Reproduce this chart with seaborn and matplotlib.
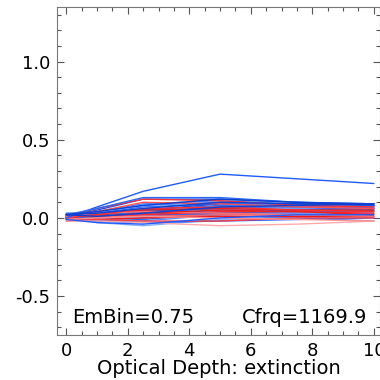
import matplotlib
matplotlib.use("Agg")
import matplotlib.pyplot as plt
import seaborn as sns
import pandas as pd
from matplotlib.ticker import MultipleLocator

depth = [0, 1, 2.5, 5, 7.5, 10]

blue_lines = {
    "b1": [0.00, 0.07, 0.17, 0.28, 0.25, 0.22],
    "b2": [0.02, 0.06, 0.13, 0.13, 0.10, 0.09],
    "b3": [0.01, 0.05, 0.12, 0.12, 0.10, 0.08],
    "b4": [0.00, 0.04, 0.09, 0.11, 0.09, 0.08],
    "b5": [0.02, 0.03, 0.06, 0.10, 0.09, 0.09],
    "b6": [0.01, 0.02, 0.05, 0.08, 0.08, 0.07],
    "b7": [0.00, 0.01, 0.03, 0.06, 0.06, 0.06],
    "b8": [0.02, 0.00, 0.02, 0.05, 0.05, 0.05],
    "b9": [0.01, -0.01, 0.00, 0.04, 0.04, 0.04],
    "b10": [0.00, -0.02, -0.02, 0.02, 0.03, 0.03],
    "b11": [-0.01, -0.03, -0.04, 0.00, 0.02, 0.02],
    "b12": [0.01, -0.03, -0.05, -0.01, 0.00, 0.01],
    "b13": [0.00, 0.00, 0.01, 0.03, 0.04, 0.05],
    "b14": [0.02, 0.02, 0.04, 0.07, 0.07, 0.08],
    "b15": [-0.01, 0.01, 0.02, 0.01, 0.00, -0.02],
    "b16": [0.01, 0.03, 0.07, 0.09, 0.07, 0.06],
    "b17": [0.00, -0.02, -0.03, -0.02, -0.01, 0.00],
    "b18": [0.02, 0.04, 0.08, 0.12, 0.10, 0.09],
    "b19": [0.01, 0.02, 0.04, 0.06, 0.08, 0.09],
    "b20": [0.00, 0.01, 0.02, 0.03, 0.05, 0.07],
    "b21": [0.03, 0.03, 0.05, 0.09, 0.09, 0.08],
    "b22": [0.01, 0.04, 0.08, 0.10, 0.08, 0.07],
    "b23": [-0.01, -0.02, -0.01, 0.03, 0.05, 0.06],
    "b24": [0.02, 0.01, 0.03, 0.07, 0.08, 0.09],
}
blue_colors = ["#1f5cff", "#2a6af5", "#1a50e8", "#4a86ff", "#0f40d0",
               "#3070ff", "#6a9cff", "#1f5cff", "#2a6af5", "#5b90ff",
               "#1f5cff", "#86b0ff", "#2a6af5", "#1a50e8", "#4a86ff",
               "#3070ff", "#1f5cff", "#0f40d0", "#2a6af5", "#1f5cff",
               "#1a50e8", "#4a86ff", "#2a6af5", "#0f40d0"]

red_lines = {
    "r1": [0.01, 0.06, 0.12, 0.11, 0.08, 0.07],
    "r2": [0.00, 0.04, 0.10, 0.09, 0.07, 0.06],
    "r3": [0.02, 0.02, 0.05, 0.06, 0.05, 0.05],
    "r4": [-0.01, 0.00, 0.02, 0.04, 0.04, 0.03],
    "r5": [0.01, 0.01, 0.01, 0.02, 0.02, 0.02],
    "r6": [-0.02, -0.01, 0.00, 0.01, 0.01, 0.01],
    "r7": [0.00, -0.01, -0.02, -0.02, 0.00, 0.00],
    "r8": [-0.02, -0.02, -0.03, -0.05, -0.04, -0.02],
    "r9": [0.01, 0.03, 0.04, 0.03, 0.02, 0.01],
    "r10": [0.00, 0.02, 0.06, 0.07, 0.05, 0.04],
    "r11": [0.02, 0.01, 0.03, 0.05, 0.04, 0.02],
    "r12": [-0.01, 0.00, 0.01, 0.00, -0.01, -0.02],
}
red_colors = ["#ff3030", "#ff5050", "#e82020", "#ff2a2a", "#ff6060",
              "#f01818", "#ff4040", "#ffaaaa", "#ff7070", "#ff3030",
              "#e82020", "#ff9090"]

# drawing order: most of the blue bundle, then red, then a few blue on top
blue_items = list(zip(blue_lines.items(), blue_colors))
red_items = list(zip(red_lines.items(), red_colors))
top_blue = {"b1", "b2", "b5", "b18", "b24", "b11"}
order = ([it for it in blue_items if it[0][0] not in top_blue] + red_items +
         [it for it in blue_items if it[0][0] in top_blue])

rows = []
palette = {}
for (name, vals), col in order:
    palette[name] = col
    for d, v in zip(depth, vals):
        rows.append({"depth": d, "value": v, "series": name})
df = pd.DataFrame(rows)

sns.set_style("ticks")
plt.rcParams["font.family"] = ["DejaVu Sans"]
plt.rcParams["axes.unicode_minus"] = False
plt.rcParams["text.color"] = "black"
plt.rcParams["axes.labelcolor"] = "black"
plt.rcParams["xtick.labelcolor"] = "black"
plt.rcParams["ytick.labelcolor"] = "black"

fig = plt.figure(figsize=(3.8, 3.8), dpi=100)
ax = fig.add_axes([0.15, 0.118, 0.85, 0.864])

sns.lineplot(data=df, x="depth", y="value", hue="series", palette=palette,
             hue_order=list(palette.keys()),
             estimator=None, legend=False, lw=1.0, ax=ax, sort=False)

ax.set_xlim(-0.3, 10.2)
ax.set_ylim(-0.75, 1.35)
ax.set_xticks([0, 2, 4, 6, 8, 10])
ax.set_yticks([-0.5, 0.0, 0.5, 1.0])
ax.set_yticklabels(["-0.5", "0.0", "0.5", "1.0"])
ax.xaxis.set_minor_locator(MultipleLocator(0.5))
ax.yaxis.set_minor_locator(MultipleLocator(0.1))
ax.tick_params(which="both", direction="in", top=True, right=True,
               labelsize=13, color="#555555", width=0.8)
ax.tick_params(which="major", length=5, pad=5)
ax.tick_params(which="minor", length=3)
for s in ax.spines.values():
    s.set_color("#777777")
    s.set_linewidth(0.8)

ax.set_xlabel("Optical Depth: extinction", fontsize=14, labelpad=-1)
ax.set_ylabel("")

ax.text(0.2, -0.67, "EmBin=0.75", fontsize=14, ha="left", va="baseline")
ax.text(9.8, -0.67, "Cfrq=1169.9", fontsize=14, ha="right", va="baseline")

fig.savefig("out.png", dpi=100)
